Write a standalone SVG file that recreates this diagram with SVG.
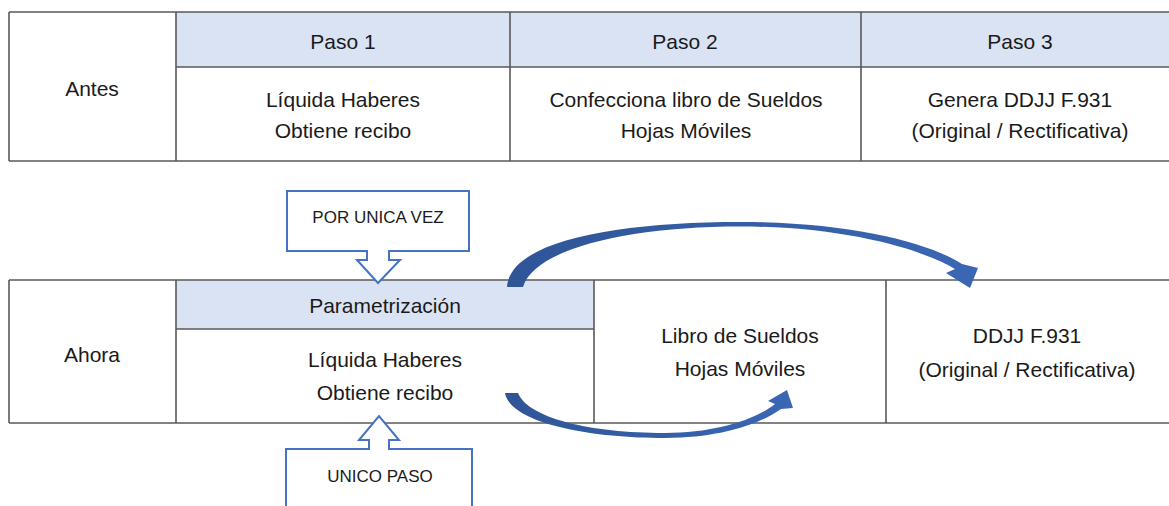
<svg xmlns="http://www.w3.org/2000/svg" width="1169" height="506" viewBox="0 0 1169 506">
<defs>
<style>
.ln{stroke:#595959;stroke-width:1.6;fill:none}
.hd{fill:#dae3f3}
.t{font-family:"Liberation Sans",Arial,sans-serif;font-size:21px;fill:#1a1a1a;text-anchor:middle}
.c{font-family:"Liberation Sans",Arial,sans-serif;font-size:17px;fill:#1a1a1a;text-anchor:middle}
.co{fill:#fff;stroke:#4472c4;stroke-width:2}
.arr{fill:url(#ag)}
</style>
<linearGradient id="ag" x1="0" y1="0" x2="1" y2="0">
<stop offset="0" stop-color="#2f5597"/>
<stop offset="1" stop-color="#3a67b4"/>
</linearGradient>
</defs>
<rect width="1169" height="506" fill="#fff"/>

<g id="antes-table">
<rect class="hd" x="176" y="12" width="993" height="55"/>
<path class="ln" d="M9 12H1169M9 161H1169M9 12V161M176 12V161M510 12V161M861 12V161M176 67H1169"/>
</g>
<g id="antes"><text class="t" x="92" y="96">Antes</text></g>
<g id="paso1"><text class="t" x="343" y="49">Paso 1</text></g>
<g id="paso2"><text class="t" x="685" y="49">Paso 2</text></g>
<g id="paso3"><text class="t" x="1020" y="49">Paso 3</text></g>
<g id="antes-liquida"><text class="t" x="343" y="107">Líquida Haberes</text><text class="t" x="343" y="138">Obtiene recibo</text></g>
<g id="antes-libro"><text class="t" x="686" y="107">Confecciona libro de Sueldos</text><text class="t" x="686" y="138">Hojas Móviles</text></g>
<g id="antes-ddjj"><text class="t" x="1020" y="107">Genera DDJJ F.931</text><text class="t" x="1020" y="138">(Original / Rectificativa)</text></g>

<g id="ahora-table">
<rect class="hd" x="176" y="280" width="418" height="49"/>
<path class="ln" d="M9 280H1169M9 423H1169M9 280V423M176 280V423M594 280V423M886 280V423M176 329H594"/>
</g>
<g id="ahora"><text class="t" x="92" y="362">Ahora</text></g>
<g id="parametrizacion"><text class="t" x="385" y="313">Parametrización</text></g>
<g id="ahora-liquida"><text class="t" x="385" y="367">Líquida Haberes</text><text class="t" x="385" y="400">Obtiene recibo</text></g>
<g id="ahora-libro"><text class="t" x="740" y="343">Libro de Sueldos</text><text class="t" x="740" y="376">Hojas Móviles</text></g>
<g id="ahora-ddjj"><text class="t" x="1027" y="343">DDJJ F.931</text><text class="t" x="1027" y="377">(Original / Rectificativa)</text></g>

<g id="por-unica-vez">
<path class="co" d="M287 191H469V251H389V260H400L378 283L357 260H367V251H287Z"/>
<text class="c" x="378" y="223">POR UNICA VEZ</text>
</g>
<g id="unico-paso">
<path class="co" d="M286 512V449H369V440H359L379 416L399 440H389V449H472V512"/>
<text class="c" x="380" y="482">UNICO PASO</text>
</g>

<g id="connectors">
<path class="arr" d="M507 287C510 240 620 222 740 222C850 222 930 243 962 264L978 268L970 288L946 273L955 269C925 251 850 226.5 740 226.5C630 226.5 535 248 523 287Z"/>
<path class="arr" d="M505 393C510 422 585 438 665 438C720 438 760 424 781 409L793 408L787 390L768 401L775 404C755 420 715 433 665 433C590 433 528 418 518 393Z"/>
</g>
</svg>
